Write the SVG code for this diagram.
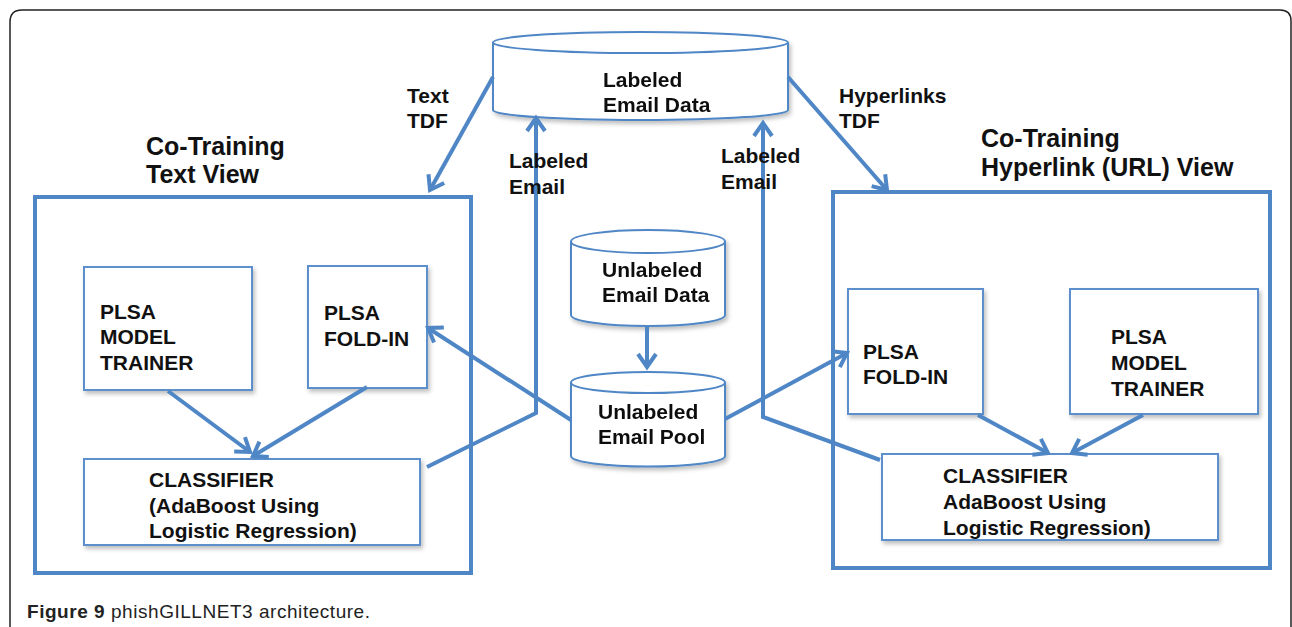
<svg xmlns="http://www.w3.org/2000/svg" width="1292" height="627" viewBox="0 0 1292 627">
<style>
text{font-family:"Liberation Sans",Arial,sans-serif;font-weight:bold;fill:#111}
.t21{font-size:21px}
.t25{font-size:25px}
.view{fill:none;stroke:#4F86C6;stroke-width:4}
.box{fill:#fff;stroke:#5B8FCC;stroke-width:2;filter:url(#sh)}
.cyl{fill:#fff;stroke:#4F86C6;stroke-width:2}
.con{fill:none;stroke:#4F86C6;stroke-width:4;marker-end:url(#ah)}
.cap{font-family:"Liberation Sans",Arial,sans-serif;font-size:19px;fill:#222}
</style>
<defs>
<filter id="sh" x="-10%" y="-10%" width="130%" height="140%">
<feDropShadow dx="2" dy="3" stdDeviation="2" flood-color="#000" flood-opacity="0.25"/>
</filter>
<marker id="ah" markerUnits="userSpaceOnUse" viewBox="-16 -12 20 24" refX="0" refY="0" markerWidth="20" markerHeight="24" orient="auto">
<path d="M -13 -9 L 0 0 L -13 9" fill="none" stroke="#4F86C6" stroke-width="4" stroke-linejoin="miter"/>
</marker>
</defs>
<rect width="1292" height="627" fill="#fff"/>
<path d="M 10 627 V 22 Q 10 10 22 10 H 1280 Q 1291 10 1291 21 V 627" fill="none" stroke="#222" stroke-width="1.5"/>

<g id="view-text">
<rect class="view" x="35" y="197" width="436" height="376"/>
<text class="t25" x="146" y="155">Co-Training</text>
<text class="t25" x="146" y="183">Text View</text>
</g>
<g id="view-url">
<rect class="view" x="833" y="192" width="437" height="376"/>
<text class="t25" x="981" y="147">Co-Training</text>
<text class="t25" x="981" y="176">Hyperlink (URL) View</text>
</g>

<g id="labeled-email-data" filter="url(#sh)">
<path class="cyl" d="M 493 42.5 V 110 A 147.5 10 0 0 0 788 110 V 42.5"/>
<ellipse class="cyl" cx="640.5" cy="42.5" rx="147.5" ry="10.5"/>
<text class="t21" x="603" y="87">Labeled</text>
<text class="t21" x="603" y="112">Email Data</text>
</g>

<g id="unlabeled-email-data" filter="url(#sh)">
<path class="cyl" d="M 571 241.5 V 315 A 77 11 0 0 0 725 315 V 241.5"/>
<ellipse class="cyl" cx="648" cy="241.5" rx="77" ry="11.5"/>
<text class="t21" x="602" y="277">Unlabeled</text>
<text class="t21" x="602" y="302">Email Data</text>
</g>

<g id="unlabeled-email-pool" filter="url(#sh)">
<path class="cyl" d="M 571 382.5 V 456 A 77 10.5 0 0 0 725 456 V 382.5"/>
<ellipse class="cyl" cx="648" cy="382.5" rx="77" ry="10.5"/>
<text class="t21" x="598" y="419">Unlabeled</text>
<text class="t21" x="598" y="444">Email Pool</text>
</g>

<g id="left-trainer">
<rect class="box" x="84" y="267" width="168" height="123"/>
<text class="t21" x="100" y="319">PLSA</text>
<text class="t21" x="100" y="344">MODEL</text>
<text class="t21" x="100" y="370">TRAINER</text>
</g>
<g id="left-foldin">
<rect class="box" x="308" y="266" width="119" height="122"/>
<text class="t21" x="324" y="320">PLSA</text>
<text class="t21" x="324" y="346">FOLD-IN</text>
</g>
<g id="left-classifier">
<rect class="box" x="84" y="459" width="336" height="86"/>
<text class="t21" x="149" y="487">CLASSIFIER</text>
<text class="t21" x="149" y="513">(AdaBoost Using</text>
<text class="t21" x="149" y="538">Logistic Regression)</text>
</g>

<g id="right-foldin">
<rect class="box" x="848" y="289" width="135" height="125"/>
<text class="t21" x="863" y="359">PLSA</text>
<text class="t21" x="863" y="384">FOLD-IN</text>
</g>
<g id="right-trainer">
<rect class="box" x="1070" y="289" width="188" height="125"/>
<text class="t21" x="1111" y="344">PLSA</text>
<text class="t21" x="1111" y="370">MODEL</text>
<text class="t21" x="1111" y="396">TRAINER</text>
</g>
<g id="right-classifier">
<rect class="box" x="882" y="454" width="336" height="86"/>
<text class="t21" x="943" y="483">CLASSIFIER</text>
<text class="t21" x="943" y="509">AdaBoost Using</text>
<text class="t21" x="943" y="535">Logistic Regression)</text>
</g>

<g id="connectors">
<path class="con" d="M 493 77 L 430 190"/>
<path class="con" d="M 788 77 L 887 190"/>
<path class="con" d="M 427 467 L 536 413 L 536 118"/>
<path class="con" d="M 880 460 L 763 417 L 763 123"/>
<path class="con" d="M 647 326 L 647 367"/>
<path class="con" d="M 571 420 L 428 328"/>
<path class="con" d="M 725 419 L 847 353"/>
<path class="con" d="M 168 391 L 250 452"/>
<path class="con" d="M 367 387 L 253 456"/>
<path class="con" d="M 978 415 L 1048 453"/>
<path class="con" d="M 1143 415 L 1072 453"/>
<text class="t21" x="407" y="103">Text</text>
<text class="t21" x="407" y="128">TDF</text>
<text class="t21" x="839" y="103">Hyperlinks</text>
<text class="t21" x="839" y="128">TDF</text>
<text class="t21" x="509" y="168">Labeled</text>
<text class="t21" x="509" y="194">Email</text>
<text class="t21" x="721" y="163">Labeled</text>
<text class="t21" x="721" y="189">Email</text>
</g>

<text class="cap" x="27" y="618" textLength="343" lengthAdjust="spacing"><tspan font-weight="bold">Figure 9</tspan><tspan font-weight="normal"> phishGILLNET3 architecture.</tspan></text>
</svg>
